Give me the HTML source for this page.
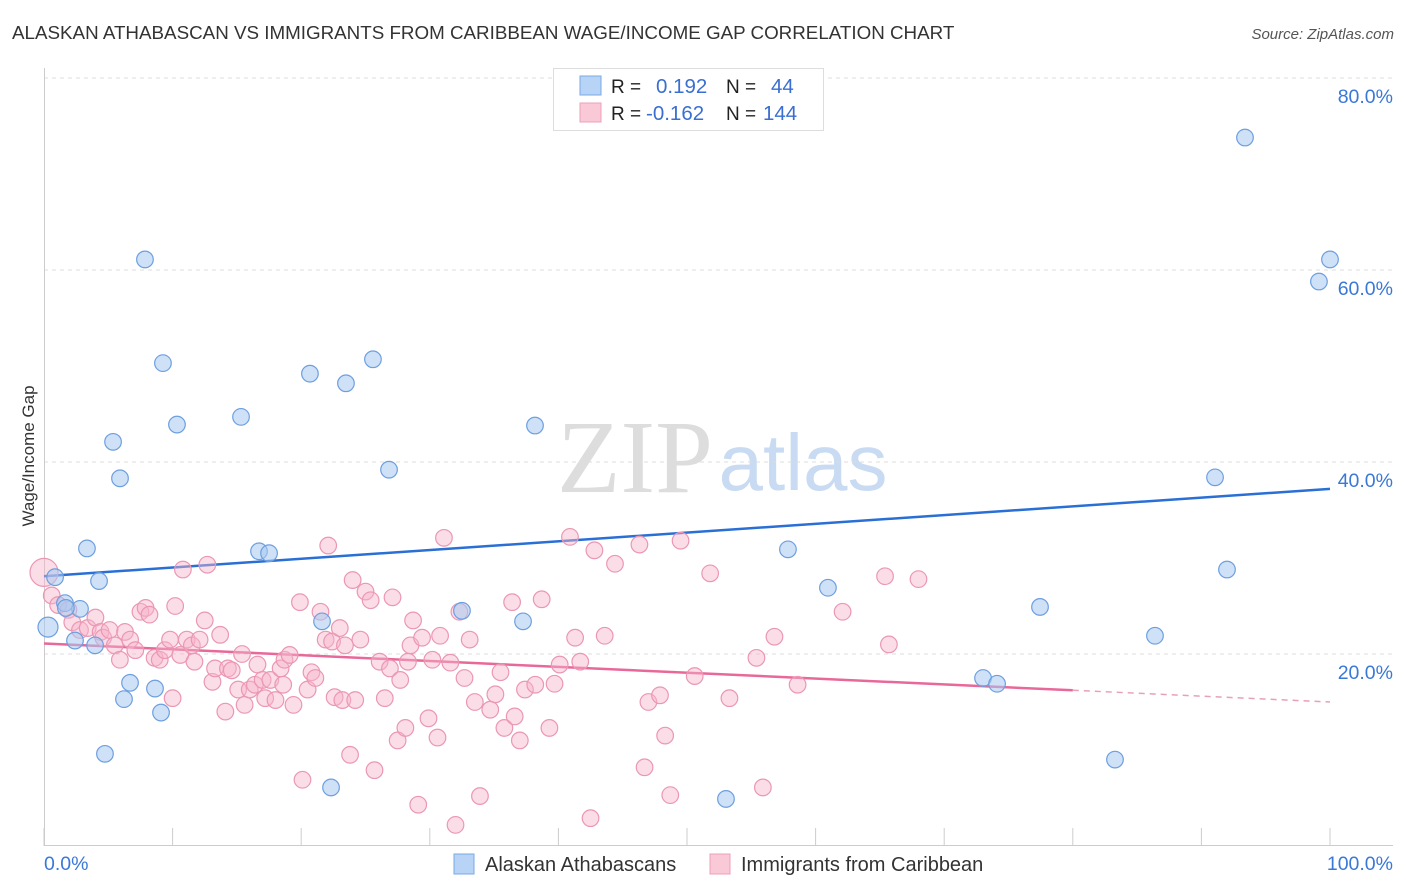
<!DOCTYPE html>
<html><head><meta charset="utf-8"><style>
body{margin:0;background:#fff;font-family:"Liberation Sans",sans-serif}
#wrap{position:relative;width:1406px;height:892px;overflow:hidden}
</style></head><body>
<div id="wrap">
<svg id="chart" width="1406" height="892" xmlns="http://www.w3.org/2000/svg">
<text x="12" y="39" font-size="18.8" fill="#333">ALASKAN ATHABASCAN VS IMMIGRANTS FROM CARIBBEAN WAGE/INCOME GAP CORRELATION CHART</text>
<text x="1394" y="39" font-size="15" fill="#555" font-style="italic" text-anchor="end">Source: ZipAtlas.com</text>
<text x="34" y="456" font-size="17" fill="#333" transform="rotate(-90 34 456)" text-anchor="middle">Wage/Income Gap</text>
<g>
<text x="635" y="492" font-size="104" font-family="Liberation Serif,serif" fill="#ddd" text-anchor="middle">ZIP</text>
<text x="803" y="490" font-size="80" fill="#c8dbf2" text-anchor="middle">atlas</text>
</g>
<g id="grid"></g><g id="axes"></g><g id="trend"></g><g id="pts"></g>
<g>
<rect x="553.5" y="68.5" width="270" height="62" fill="#fff" stroke="#ddd"/>
<rect x="580" y="76" width="21" height="19" fill="#b7d3f5" stroke="#7aaae6"/>
<rect x="580" y="103" width="21" height="19" fill="#f9c9d7" stroke="#ee9fb8"/>
<text x="611" y="93" font-size="19" fill="#222">R = </text><text x="656" y="93" font-size="20.5" fill="#3a6fd1">0.192</text>
<text x="726" y="93" font-size="19" fill="#222">N = </text><text x="771" y="93" font-size="20.5" fill="#3a6fd1">44</text>
<text x="611" y="120" font-size="19" fill="#222">R = </text><text x="646" y="120" font-size="20.5" fill="#3a6fd1">-0.162</text>
<text x="726" y="120" font-size="19" fill="#222">N = </text><text x="763" y="120" font-size="20.5" fill="#3a6fd1">144</text>
</g>
<g>
<rect x="454" y="854" width="20" height="20" fill="#b7d3f5" stroke="#7aaae6"/>
<text x="485" y="871" font-size="20" fill="#333">Alaskan Athabascans</text>
<rect x="710" y="854" width="20" height="20" fill="#f9c9d7" stroke="#ee9fb8"/>
<text x="741" y="871" font-size="20" fill="#333">Immigrants from Caribbean</text>
</g>
</svg>
</div>
<script>
const yTicks=[20,40,60,80];
const yTickLabels=["20.0%","40.0%","60.0%","80.0%"];
const xEndLabels=["0.0%","100.0%"];
const blueX=[7.85,9.25,10.34,5.37,5.91,3.34,4.28,0.86,1.63,2.80,2.41,3.97,0.31,6.69,8.63,6.22,9.10,4.74,15.32,20.68,23.48,25.58,26.83,16.72,17.50,21.62,22.32,32.50,38.18,37.25,53.03,57.85,60.96,73.02,74.11,77.45,83.28,86.39,91.06,91.99,93.39,99.14,100.0,1.7];
const blueY=[61.1,50.3,43.9,42.1,38.3,31.0,27.6,28.0,25.3,24.7,21.4,20.9,22.8,17.0,16.4,15.3,13.9,9.6,44.7,49.2,48.2,50.7,39.2,30.7,30.5,23.4,6.1,24.5,43.8,23.4,4.9,30.9,26.9,17.5,16.9,24.9,9.0,21.9,38.4,28.8,73.8,58.8,61.1,24.8];
const pinkX=[0.0,0.6,1.1,1.9,2.2,2.8,3.4,4.0,4.4,4.6,5.1,5.5,5.9,6.3,6.7,7.1,7.5,7.9,8.2,8.6,9.0,9.4,9.8,10.0,10.2,10.6,10.8,11.1,11.5,11.7,12.1,12.5,12.7,13.1,13.3,13.7,14.1,14.3,14.6,15.1,15.4,15.6,16.0,16.4,16.6,17.0,17.2,17.6,18.0,18.4,18.6,18.7,19.1,19.4,19.9,20.1,20.5,20.8,21.1,21.5,21.9,22.1,22.4,22.6,23.0,23.2,23.4,23.8,24.0,24.2,24.6,25.0,25.4,25.7,26.1,26.5,26.9,27.1,27.5,27.7,28.1,28.3,28.5,28.7,29.1,29.4,29.9,30.2,30.6,30.8,31.1,31.6,32.0,32.3,32.7,33.1,33.5,33.9,34.7,35.1,35.5,35.8,36.4,36.6,37.0,37.4,38.2,38.7,39.3,39.7,40.1,40.9,41.3,41.7,42.5,42.8,43.6,44.4,46.3,46.7,47.0,47.9,48.3,48.7,49.5,50.6,51.8,53.3,55.4,55.9,56.8,58.6,62.1,65.4,65.7,68.0];
const pinkY=[28.5,26.1,25.1,24.6,23.3,22.5,22.7,23.8,22.3,21.7,22.5,20.9,19.4,22.3,21.5,20.4,24.4,24.8,24.1,19.6,19.4,20.4,21.5,15.4,25.0,19.9,28.8,21.5,20.9,19.2,21.5,23.5,29.3,17.1,18.5,22.0,14.0,18.5,18.3,16.3,20.0,14.7,16.3,16.8,18.9,17.3,15.4,17.3,15.2,18.5,16.8,19.4,19.9,14.7,25.4,6.9,16.3,18.1,17.5,24.4,21.5,31.3,21.3,15.5,22.7,15.2,20.9,9.5,27.7,15.2,21.5,26.5,25.6,7.9,19.2,15.4,18.5,25.9,11.0,17.3,12.3,19.2,20.9,23.5,4.3,21.7,13.3,19.4,11.3,21.9,32.1,19.1,2.2,24.4,17.5,21.5,15.0,5.2,14.2,15.8,18.1,12.3,25.4,13.5,11.0,16.3,16.8,25.7,12.3,16.9,18.9,32.2,21.7,19.2,2.9,30.8,21.9,29.4,31.4,8.2,15.0,15.7,11.5,5.3,31.8,17.7,28.4,15.4,19.6,6.1,21.8,16.8,24.4,28.1,21.0,27.8];
const blueTrend=[28.1,37.2];
const pinkTrend=[21.1,15.0];
const pinkSolidEnd=80;

const NS="http://www.w3.org/2000/svg";
const X0=44,X1=1330,YB=846,YT=78;
const sx=v=>X0+(X1-X0)*v/100;
const sy=v=>YB-(YB-YT)*v/80;
function mk(tag,attrs,parent){const e=document.createElementNS(NS,tag);for(const k in attrs)e.setAttribute(k,attrs[k]);document.getElementById(parent).appendChild(e);return e;}

yTicks.forEach((t,i)=>{
  const g=mk('line',{x1:X0,x2:1393,y1:sy(t),y2:sy(t),stroke:'#ddd','stroke-dasharray':'4,4'},'grid');
  
  
  const l=mk('text',{x:1393,y:sy(t)+25,'font-size':19.5,fill:'#3a78d8','text-anchor':'end'},'axes');
  l.textContent=yTickLabels[i];
  
  
});
const ax=mk('line',{x1:X0,x2:1393,y1:845.5,y2:845.5,stroke:'#ccc'},'axes');


const ay=mk('line',{x1:X0+.5,x2:X0+.5,y1:68,y2:846,stroke:'#ccc'},'axes');


for(let i=0;i<=10;i++){
  const t=mk('line',{x1:sx(i*10),x2:sx(i*10),y1:828,y2:846,stroke:'#ccc'},'axes');
  
  
}
[[0,'start',44],[100,'end',1393]].forEach((d,i)=>{
  const l=mk('text',{x:d[2],y:870,'font-size':19.5,fill:'#3a78d8','text-anchor':d[1]},'axes');
  l.textContent=xEndLabels[i];
  
  
});

const bl=mk('line',{x1:sx(0),y1:sy(blueTrend[0]),x2:sx(100),y2:sy(blueTrend[1]),stroke:'#2a6fd6','stroke-width':2.5},'trend');


const pAt=v=>pinkTrend[0]+(pinkTrend[1]-pinkTrend[0])*v/100;
const pl=mk('line',{x1:sx(0),y1:sy(pAt(0)),x2:sx(pinkSolidEnd),y2:sy(pAt(pinkSolidEnd)),stroke:'#e8689a','stroke-width':2.5},'trend');


const pd=mk('line',{x1:sx(pinkSolidEnd),y1:sy(pAt(pinkSolidEnd)),x2:sx(100),y2:sy(pAt(100)),stroke:'#e8a0b8','stroke-width':1.5,'stroke-dasharray':'6,5'},'trend');



pinkX.forEach((x,i)=>{
  const c=mk('circle',{cx:sx(x),cy:sy(pinkY[i]),r:(i===0?14:8.3),fill:'rgba(246,180,202,0.45)',stroke:'#eb97b3','stroke-width':1.2},'pts');
  
  
});
blueX.forEach((x,i)=>{
  const c=mk('circle',{cx:sx(x),cy:sy(blueY[i]),r:(i===12?10:8.3),fill:'rgba(168,200,240,0.55)',stroke:'#6d9fe0','stroke-width':1.2},'pts');
  
  
});
</script>
</body></html>
